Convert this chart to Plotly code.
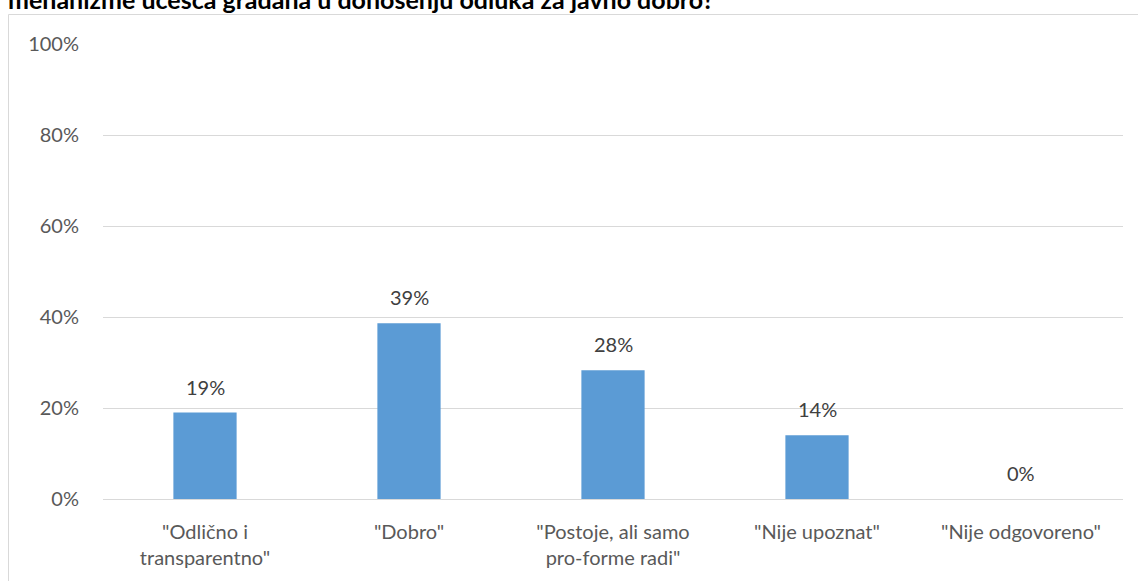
import plotly.graph_objects as go

categories = ['"Odlično i<br>transparentno"', '"Dobro"', '"Postoje, ali samo<br>pro-forme radi"',
              '"Nije upoznat"', '"Nije odgovoreno"']
values = [0.19, 0.386, 0.283, 0.14, 0.0]
value_labels = ["19%", "39%", "28%", "14%", "0%"]
y_ticks = [0, 0.2, 0.4, 0.6, 0.8, 1.0]
y_tick_labels = ["0%", "20%", "40%", "60%", "80%", "100%"]
title_text = "mehanizme učešća građana u donošenju odluka za javno dobro?"

FONT = "Lato"
W, H = 1138, 581
ML, MR, MT, MB = 103, 15, 44, 82
PW = W - ML - MR
PH = H - MT - MB

def px_x(px):
    return (px - ML) / PW

def px_y(py):
    return (H - MB - py) / PH

fig = go.Figure()
fig.add_trace(go.Bar(
    x=categories, y=values,
    marker=dict(color="#5b9bd5", line=dict(width=0)),
    width=0.31,
    hoverinfo="skip",
))

for c, v, t in zip(categories, values, value_labels):
    fig.add_annotation(x=c, y=v, xref="x", yref="y", text=t, showarrow=False,
                       yanchor="bottom", yshift=12,
                       font=dict(family=FONT, size=20, color="#404040"))

fig.add_annotation(x=px_x(6), y=px_y(16), xref="paper", yref="paper", text="<b>" + title_text + "</b>",
                   showarrow=False, xanchor="left", yanchor="bottom",
                   font=dict(family=FONT, size=25, color="#000000"))

fig.add_shape(type="rect", xref="paper", yref="paper",
              x0=px_x(8.5), x1=px_x(1150), y0=px_y(600), y1=px_y(14.5),
              line=dict(color="#d9d9d9", width=1), fillcolor="rgba(0,0,0,0)", layer="above")

fig.update_layout(
    width=W, height=H,
    margin=dict(l=ML, r=MR, t=MT, b=MB),
    paper_bgcolor="white", plot_bgcolor="white",
    showlegend=False,
    font=dict(family=FONT, size=20, color="#595959"),
    xaxis=dict(showgrid=False, showline=False, zeroline=False, ticks="",
               tickfont=dict(family=FONT, size=20, color="#595959"),
               ticklabelstandoff=19),
    yaxis=dict(range=[0, 1], tickvals=y_ticks, ticktext=y_tick_labels,
               showgrid=True, gridcolor="#d9d9d9", gridwidth=1,
               zeroline=True, zerolinecolor="#d9d9d9", zerolinewidth=1,
               showline=False, ticks="",
               tickfont=dict(family=FONT, size=20, color="#595959"),
               ticklabelstandoff=23),
)

fig.write_html("out.html", config={"displayModeBar": False},
               post_script="document.body.style.margin='0';document.body.style.overflow='hidden';")
